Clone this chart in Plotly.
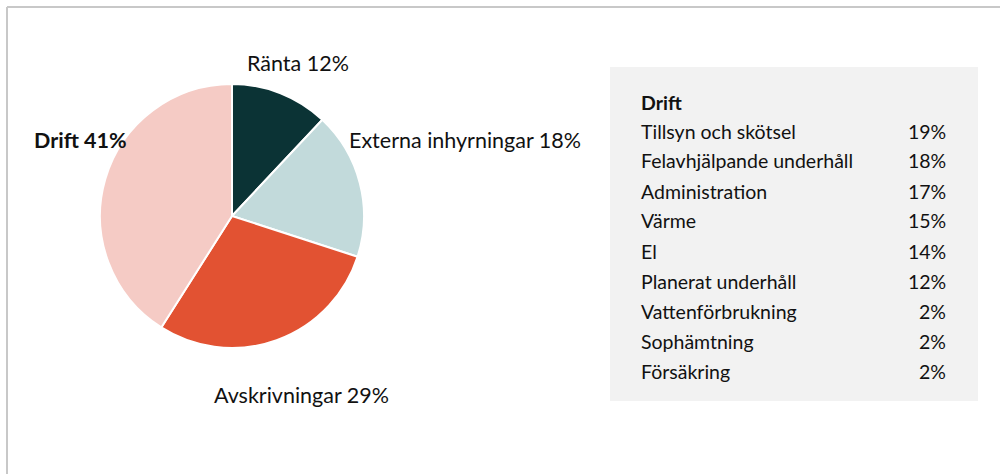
import plotly.graph_objects as go

# Pie data
categories = ["Ränta", "Externa inhyrningar", "Avskrivningar", "Drift"]
shares = [12, 18, 29, 41]
colors = ["#0b3335", "#c2dadb", "#e25232", "#f5cbc5"]

# Drift breakdown table
drift_items = ["Tillsyn och skötsel", "Felavhjälpande underhåll", "Administration",
               "Värme", "El", "Planerat underhåll", "Vattenförbrukning",
               "Sophämtning", "Försäkring"]
drift_shares = [19, 18, 17, 15, 14, 12, 2, 2, 2]

W, H = 1000, 474
FONT = "Lato, Carlito, Calibri, sans-serif"

fig = go.Figure()
cx, cy, r = 232, 216, 132
fig.add_trace(go.Pie(
    labels=categories, values=shares, sort=False, direction="clockwise",
    rotation=0, marker=dict(colors=colors, line=dict(color="white", width=2)),
    textinfo="none", hoverinfo="label+percent", showlegend=False,
    domain=dict(x=[(cx - r) / W, (cx + r) / W], y=[1 - (cy + r) / H, 1 - (cy - r) / H]),
))

ann = []
label_pos = [(245, 63, False), (347, 140, False), (212, 395, False), (32, 140, True)]
for (x, y, bold), c, v in zip(label_pos, categories, shares):
    t = f"{c} {v}%"
    if bold:
        t = f"<b>{t}</b>"
    ann.append(dict(x=x / W, y=1 - y / H, xref="paper", yref="paper", text=t,
                    showarrow=False, xanchor="left", yanchor="middle",
                    font=dict(family=FONT, size=21.5, color="#111111")))

TS = 19.5
ann.append(dict(x=639 / W, y=1 - 102 / H, xref="paper", yref="paper", text="<b>Drift</b>",
                showarrow=False, xanchor="left", yanchor="middle",
                font=dict(family=FONT, size=TS, color="#111111")))
for i, (name, v) in enumerate(zip(drift_items, drift_shares)):
    y = 131 + 30 * i
    ann.append(dict(x=639 / W, y=1 - y / H, xref="paper", yref="paper", text=name,
                    showarrow=False, xanchor="left", yanchor="middle",
                    font=dict(family=FONT, size=TS, color="#111111")))
    ann.append(dict(x=948 / W, y=1 - y / H, xref="paper", yref="paper", text=f"{v}%",
                    showarrow=False, xanchor="right", yanchor="middle",
                    font=dict(family=FONT, size=TS, color="#111111")))

shapes = [
    dict(type="rect", xref="paper", yref="paper", x0=610 / W, x1=978 / W,
         y0=1 - 401 / H, y1=1 - 67 / H, fillcolor="#f2f2f2", line=dict(width=0), layer="below"),
    dict(type="line", xref="paper", yref="paper", x0=7 / W, x1=1, y0=1 - 7 / H, y1=1 - 7 / H,
         line=dict(color="#c8c8c8", width=2)),
    dict(type="line", xref="paper", yref="paper", x0=7 / W, x1=7 / W, y0=0, y1=1 - 7 / H,
         line=dict(color="#c8c8c8", width=2)),
]

fig.update_layout(width=W, height=H, margin=dict(l=0, r=0, t=0, b=0),
                  paper_bgcolor="white", plot_bgcolor="white",
                  annotations=ann, shapes=shapes)
fig.write_html("out.html", config={"displayModeBar": False},
               post_script="document.body.style.margin='0';document.body.style.overflow='hidden';")
